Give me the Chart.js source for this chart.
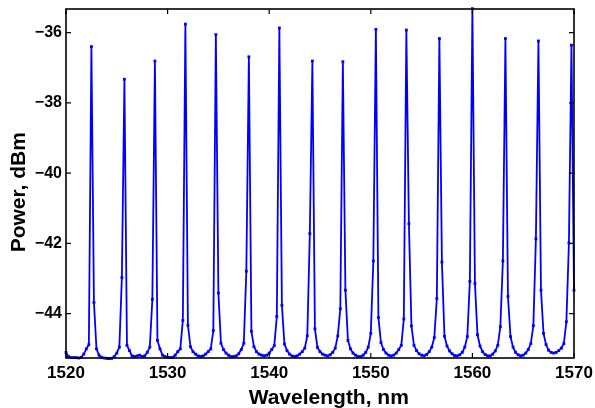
<!DOCTYPE html>
<html>
<head>
<meta charset="utf-8">
<script src="https://cdn.jsdelivr.net/npm/chart.js@4.4.1/dist/chart.umd.min.js"></script>
<style>
  html, body { margin: 0; padding: 0; background: #fff; }
  canvas { display: block; }
</style>
</head>
<body>
<canvas id="chart" width="595" height="408"></canvas>
<script>
// wavelength samples, nm
const wavelength = [
  1520, 1520.25, 1520.5, 1520.75, 1521, 1521.25, 1521.5, 1521.75,
  1522, 1522.25, 1522.5, 1522.75, 1523, 1523.25, 1523.5, 1523.75,
  1524, 1524.25, 1524.5, 1524.75, 1525, 1525.25, 1525.5, 1525.75,
  1526, 1526.25, 1526.5, 1526.75, 1527, 1527.25, 1527.5, 1527.75,
  1528, 1528.25, 1528.5, 1528.75, 1529, 1529.25, 1529.5, 1529.75,
  1530, 1530.25, 1530.5, 1530.75, 1531, 1531.25, 1531.5, 1531.75,
  1532, 1532.25, 1532.5, 1532.75, 1533, 1533.25, 1533.5, 1533.75,
  1534, 1534.25, 1534.5, 1534.75, 1535, 1535.25, 1535.5, 1535.75,
  1536, 1536.25, 1536.5, 1536.75, 1537, 1537.25, 1537.5, 1537.75,
  1538, 1538.25, 1538.5, 1538.75, 1539, 1539.25, 1539.5, 1539.75,
  1540, 1540.25, 1540.5, 1540.75, 1541, 1541.25, 1541.5, 1541.75,
  1542, 1542.25, 1542.5, 1542.75, 1543, 1543.25, 1543.5, 1543.75,
  1544, 1544.25, 1544.5, 1544.75, 1545, 1545.25, 1545.5, 1545.75,
  1546, 1546.25, 1546.5, 1546.75, 1547, 1547.25, 1547.5, 1547.75,
  1548, 1548.25, 1548.5, 1548.75, 1549, 1549.25, 1549.5, 1549.75,
  1550, 1550.25, 1550.5, 1550.75, 1551, 1551.25, 1551.5, 1551.75,
  1552, 1552.25, 1552.5, 1552.75, 1553, 1553.25, 1553.5, 1553.75,
  1554, 1554.25, 1554.5, 1554.75, 1555, 1555.25, 1555.5, 1555.75,
  1556, 1556.25, 1556.5, 1556.75, 1557, 1557.25, 1557.5, 1557.75,
  1558, 1558.25, 1558.5, 1558.75, 1559, 1559.25, 1559.5, 1559.75,
  1560, 1560.25, 1560.5, 1560.75, 1561, 1561.25, 1561.5, 1561.75,
  1562, 1562.25, 1562.5, 1562.75, 1563, 1563.25, 1563.5, 1563.75,
  1564, 1564.25, 1564.5, 1564.75, 1565, 1565.25, 1565.5, 1565.75,
  1566, 1566.25, 1566.5, 1566.75, 1567, 1567.25, 1567.5, 1567.75,
  1568, 1568.25, 1568.5, 1568.75, 1569, 1569.25, 1569.5, 1569.75,
  1570
];

// measured power, dBm
const power = [
  -45.10, -45.22, -45.25, -45.25, -45.25, -45.26, -45.24, -45.15,
  -45.00, -44.88, -36.40, -43.68, -45.00, -45.18, -45.24, -45.26,
  -45.27, -45.28, -45.27, -45.22, -45.12, -44.95, -42.97, -37.33,
  -44.90, -45.05, -45.20, -45.22, -45.20, -45.18, -45.22, -45.20,
  -45.10, -44.95, -43.59, -36.81, -44.76, -45.00, -45.18, -45.22,
  -45.24, -45.25, -45.24, -45.18, -45.08, -45.00, -44.19, -35.76,
  -44.33, -44.94, -45.08, -45.15, -45.20, -45.22, -45.20, -45.15,
  -45.08, -45.00, -44.48, -36.06, -43.41, -44.84, -45.02, -45.12,
  -45.18, -45.22, -45.22, -45.20, -45.14, -45.02, -44.84, -42.79,
  -36.69, -44.50, -44.94, -45.08, -45.15, -45.18, -45.20, -45.18,
  -45.12, -45.02, -44.91, -44.08, -35.87, -43.76, -44.86, -45.05,
  -45.15, -45.20, -45.22, -45.20, -45.15, -45.08, -44.98, -44.63,
  -41.72, -36.81, -44.43, -44.96, -45.08, -45.15, -45.18, -45.20,
  -45.17, -45.10, -44.98, -44.63, -43.86, -36.83, -43.33, -44.76,
  -45.00, -45.12, -45.18, -45.22, -45.22, -45.18, -45.10, -44.95,
  -44.56, -42.50, -35.91, -44.11, -44.82, -45.02, -45.12, -45.18,
  -45.20, -45.18, -45.12, -45.02, -44.90, -44.15, -35.93, -41.44,
  -44.35, -44.90, -45.05, -45.14, -45.18, -45.20, -45.16, -45.08,
  -44.95, -44.68, -43.57, -36.17, -42.53, -44.64, -44.92, -45.06,
  -45.14, -45.19, -45.20, -45.17, -45.10, -44.95, -44.65, -43.08,
  -35.32, -43.14, -44.60, -44.92, -45.08, -45.16, -45.20, -45.20,
  -45.15, -45.06, -44.90, -44.37, -42.50, -36.17, -43.51, -44.65,
  -44.95, -45.10, -45.17, -45.20, -45.18, -45.12, -45.02, -44.85,
  -44.34, -41.87, -36.24, -43.33, -44.56, -44.88, -45.04, -45.10,
  -45.12, -45.10, -45.05, -44.98, -44.85, -44.23, -41.99, -36.36,
  -43.33
];

const xTicks = [1520, 1530, 1540, 1550, 1560, 1570];
const yTicks = [-44, -42, -40, -38, -36];

const fontFamily = '"Liberation Sans", Arial, Helvetica, sans-serif';

// matlab style box with inward ticks on all four sides
const frame = {
  id: 'frame',
  afterDatasetsDraw(chart) {
    const { ctx, chartArea: a, scales: { x, y } } = chart;
    ctx.save();
    ctx.strokeStyle = '#000';
    ctx.lineWidth = 1.2;
    ctx.beginPath();
    xTicks.forEach(v => {
      const px = x.getPixelForValue(v);
      ctx.moveTo(px, a.bottom); ctx.lineTo(px, a.bottom - 5);
      ctx.moveTo(px, a.top); ctx.lineTo(px, a.top + 5);
    });
    yTicks.forEach(v => {
      const py = y.getPixelForValue(v);
      ctx.moveTo(a.left, py); ctx.lineTo(a.left + 5, py);
      ctx.moveTo(a.right, py); ctx.lineTo(a.right - 5, py);
    });
    ctx.stroke();
    ctx.lineWidth = 1.6;
    ctx.strokeRect(a.left, a.top, a.right - a.left, a.bottom - a.top);
    ctx.restore();
  }
};

new Chart(document.getElementById('chart'), {
  type: 'line',
  data: {
    datasets: [{
      data: wavelength.map((w, i) => ({ x: w, y: power[i] })),
      borderColor: '#0000ff',
      backgroundColor: '#0000ff',
      borderWidth: 1.8,
      pointStyle: 'rect',
      pointRadius: 2,
      pointBorderWidth: 0,
      tension: 0,
      clip: 2
    }]
  },
  options: {
    responsive: false,
    animation: false,
    layout: { padding: { left: 0, right: 21, top: 9, bottom: 0 } },
    plugins: { legend: { display: false }, tooltip: { enabled: false } },
    scales: {
      x: {
        type: 'linear',
        min: 1520,
        max: 1570,
        afterBuildTicks: s => { s.ticks = xTicks.map(v => ({ value: v })); },
        afterFit: s => {
          s.height = 50;
          s.paddingLeft = 0;
          s.paddingRight = 0;
        },
        grid: { display: false, drawTicks: false },
        border: { display: false },
        ticks: {
          color: '#000',
          padding: 5,
          maxRotation: 0,
          font: { family: fontFamily, size: 17, weight: 'bold' },
          callback: v => String(v)
        },
        title: {
          display: true,
          text: '\u00a0\u00a0\u00a0Wavelength, nm',
          color: '#000',
          padding: { top: 0, bottom: -3 },
          font: { family: fontFamily, size: 21, weight: 'bold' }
        }
      },
      y: {
        type: 'linear',
        min: -45.26,
        max: -35.33,
        afterBuildTicks: s => { s.ticks = yTicks.map(v => ({ value: v })); },
        afterFit: s => {
          s.width = 66;
          s.paddingTop = 0;
          s.paddingBottom = 0;
        },
        grid: { display: false, drawTicks: false },
        border: { display: false },
        ticks: {
          color: '#000',
          padding: 4,
          font: { family: fontFamily, size: 16, weight: 'bold' },
          callback: v => (v < 0 ? '\u2212' + Math.abs(v) : String(v))
        },
        title: {
          display: true,
          text: 'Power, dBm\u00a0\u00a0\u00a0',
          color: '#000',
          padding: { top: 7, bottom: 0 },
          font: { family: fontFamily, size: 21, weight: 'bold' }
        }
      }
    }
  },
  plugins: [frame]
});
</script>
</body>
</html>
